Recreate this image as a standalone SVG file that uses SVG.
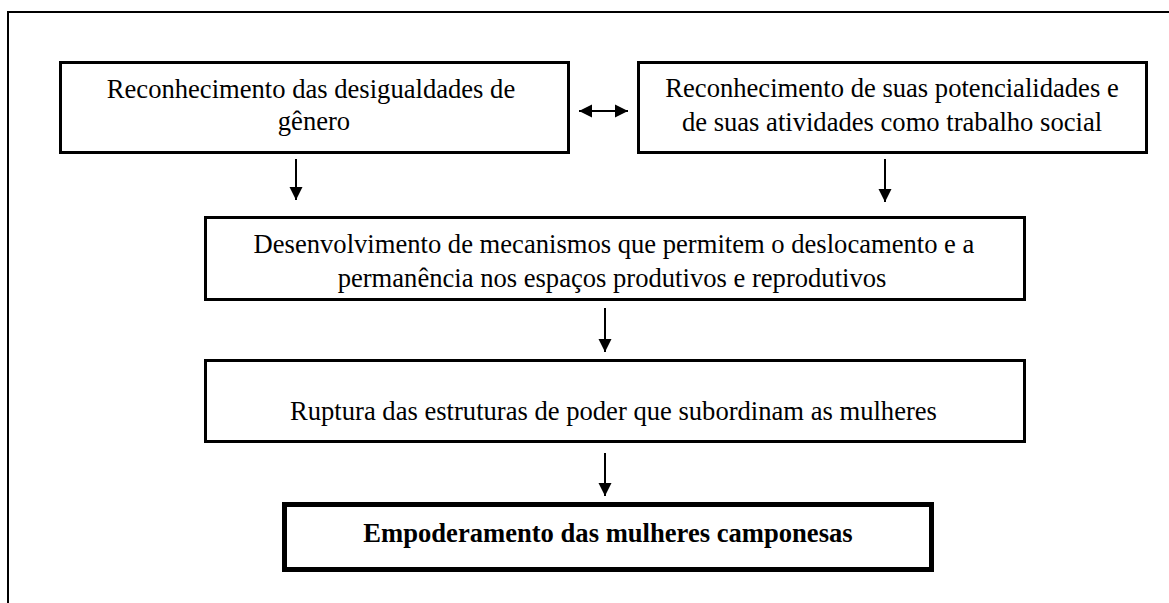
<svg xmlns="http://www.w3.org/2000/svg" width="1169" height="603" viewBox="0 0 1169 603">
<style>
.box{fill:#fff;stroke:#000;stroke-width:3}
.bold-box{fill:#fff;stroke:#000;stroke-width:5}
.t{font-family:"Liberation Serif","Times New Roman",serif;font-size:26.6px;fill:#000;text-anchor:middle}
.b{font-weight:bold}
.c{stroke:#000;stroke-width:2;fill:none}
</style>
<defs>
<marker id="ah" markerWidth="14" markerHeight="14" refX="13" refY="7" orient="auto-start-reverse" markerUnits="userSpaceOnUse">
<path d="M0,0.5 L13,7 L0,13.5 Z" fill="#000"/>
</marker>
</defs>
<rect width="1169" height="603" fill="#fff"/>
<path d="M8,603 V12 H1169" fill="none" stroke="#000" stroke-width="2"/>
<g id="n1">
<rect class="box" x="60.5" y="62.5" width="508" height="90"/>
<text class="t" x="311" y="98">Reconhecimento das desigualdades de</text>
<text class="t" x="314" y="130">gênero</text>
</g>
<g id="n2">
<rect class="box" x="638.5" y="62.5" width="508" height="90"/>
<text class="t" x="892" y="97">Reconhecimento de suas potencialidades e</text>
<text class="t" x="892" y="131">de suas atividades como trabalho social</text>
</g>
<g id="n3">
<rect class="box" x="205.5" y="217.5" width="819" height="82"/>
<text class="t" x="614" y="253">Desenvolvimento de mecanismos que permitem o deslocamento e a</text>
<text class="t" x="612" y="286.5">permanência nos espaços produtivos e reprodutivos</text>
</g>
<g id="n4">
<rect class="box" x="205.5" y="360.5" width="819" height="81"/>
<text class="t" x="613.5" y="420">Ruptura das estruturas de poder que subordinam as mulheres</text>
</g>
<g id="n5">
<rect class="bold-box" x="284.5" y="504.5" width="647" height="65"/>
<text class="t b" x="608" y="542">Empoderamento das mulheres camponesas</text>
</g>
<g id="connectors">
<line class="c" x1="579" y1="111" x2="628" y2="111" marker-start="url(#ah)" marker-end="url(#ah)"/>
<line class="c" x1="296" y1="159" x2="296" y2="200" marker-end="url(#ah)"/>
<line class="c" x1="885" y1="159" x2="885" y2="202" marker-end="url(#ah)"/>
<line class="c" x1="605" y1="308" x2="605" y2="352" marker-end="url(#ah)"/>
<line class="c" x1="605" y1="453" x2="605" y2="496" marker-end="url(#ah)"/>
</g>
</svg>
